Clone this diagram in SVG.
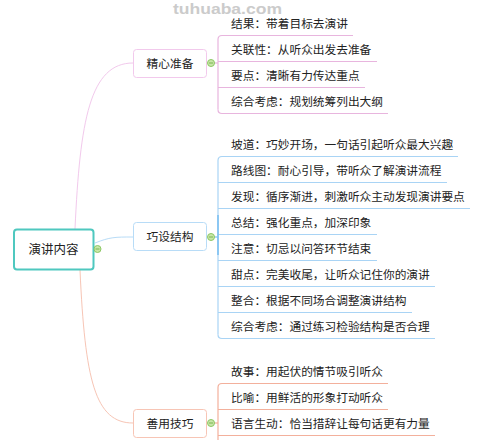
<svg xmlns="http://www.w3.org/2000/svg" width="483" height="440" viewBox="0 0 483 440">
<style>
text{font-family:"Noto Sans CJK SC","Noto Sans",sans-serif;fill:#222;}
.leaf{font-size:11.7px;}
.br{font-size:11.7px;text-anchor:middle;}
.box{fill:#fff;stroke-width:1;}
.dot{fill:#c8e6a8;stroke:#8dc865;stroke-width:1;}
.dotm{stroke:#7ab650;stroke-width:1;}
.wm{font-family:"Liberation Sans",Arial,sans-serif;font-weight:bold;font-size:15px;fill:#cbcbcb;}
.c{fill:none;}
</style>
<rect width="483" height="440" fill="#fff"/>
<g id="connectors">
  <path class="c" d="M75,229 C80,120 90,63 133,63" stroke="#f2c9ec" stroke-width="1"/>
  <path class="c" d="M95,243 C110,237 115,237 133,237" stroke="#b8dcf7" stroke-width="1"/>
  <path class="c" d="M80,270 C85,380 95,423 133,423" stroke="#f7c5b5" stroke-width="1"/>
  <g stroke="#e8b5de" stroke-width="1.2" fill="none">
    <path d="M214,63 H218"/>
    <path d="M218,109.5 V39.5 Q218,35.5 222,35.5 H353"/>
    <path d="M218,61.5 H377"/>
    <path d="M218,87.5 H365"/>
    <path d="M218,109.5 Q218,113.5 222,113.5 H388"/>
  </g>
  <g stroke="#a9d4f5" stroke-width="1.2" fill="none">
    <path d="M214,237 H218" stroke="#7cc0f2"/>
    <path d="M218,334.5 V160.5 Q218,156.5 222,156.5 H458"/>
    <path d="M218,182.5 H447"/>
    <path d="M218,208.5 H470"/>
    <path d="M218,234.5 H377"/>
    <path d="M218,260.5 H377"/>
    <path d="M218,286.5 H435"/>
    <path d="M218,312.5 H412"/>
    <path d="M218,334.5 Q218,338.5 222,338.5 H435"/>
    <path d="M218,215 V255" stroke="#7cc0f2" stroke-width="1.6"/>
  </g>
  <g stroke="#f3b09c" stroke-width="1.2" fill="none">
    <path d="M214,423 H218"/>
    <path d="M218,445 V387.5 Q218,383.5 222,383.5 H388"/>
    <path d="M218,409.5 H388"/>
    <path d="M218,435.5 H435"/>
  </g>
</g>
<text class="wm" x="173" y="14" textLength="109" lengthAdjust="spacingAndGlyphs">tuhuaba.com</text>
<g id="root">
  <rect x="14" y="229.5" width="79.5" height="40" rx="3" fill="#fff" stroke="#4fc8bf" stroke-width="2"/>
  <text x="53.5" y="253.5" font-size="12.5" text-anchor="middle">演讲内容</text>
  <circle class="dot" cx="97.5" cy="249" r="3.5"/><path class="dotm" d="M95.5,249 H99.5"/>
</g>
<g id="b1">
  <rect class="box" x="133.5" y="49.5" width="73" height="28" rx="3" stroke="#f2c9ec"/>
  <text class="br" x="170" y="67.5">精心准备</text>
  <circle class="dot" cx="211" cy="63" r="3.5"/><path class="dotm" d="M209,63 H213"/>
</g>
<g id="b2">
  <rect class="box" x="133.5" y="222.5" width="73" height="28" rx="3" stroke="#b8dcf7"/>
  <text class="br" x="170" y="241">巧设结构</text>
  <circle class="dot" cx="211" cy="237" r="3.5"/><path class="dotm" d="M209,237 H213"/>
</g>
<g id="b3">
  <rect class="box" x="133.5" y="409.5" width="73" height="28" rx="3" stroke="#f7c5b5"/>
  <text class="br" x="170" y="428">善用技巧</text>
  <circle class="dot" cx="211" cy="423" r="3.5"/><path class="dotm" d="M209,423 H213"/>
</g>
<g id="leaves1">
  <text class="leaf" x="231" y="28">结果：带着目标去演讲</text>
  <text class="leaf" x="231" y="54">关联性：从听众出发去准备</text>
  <text class="leaf" x="231" y="80">要点：清晰有力传达重点</text>
  <text class="leaf" x="231" y="106">综合考虑：规划统筹列出大纲</text>
</g>
<g id="leaves2">
  <text class="leaf" x="231" y="149">坡道：巧妙开场，一句话引起听众最大兴趣</text>
  <text class="leaf" x="231" y="175">路线图：耐心引导，带听众了解演讲流程</text>
  <text class="leaf" x="231" y="201">发现：循序渐进，刺激听众主动发现演讲要点</text>
  <text class="leaf" x="231" y="227">总结：强化重点，加深印象</text>
  <text class="leaf" x="231" y="253">注意：切忌以问答环节结束</text>
  <text class="leaf" x="231" y="279">甜点：完美收尾，让听众记住你的演讲</text>
  <text class="leaf" x="231" y="305">整合：根据不同场合调整演讲结构</text>
  <text class="leaf" x="231" y="331">综合考虑：通过练习检验结构是否合理</text>
</g>
<g id="leaves3">
  <text class="leaf" x="231" y="376">故事：用起伏的情节吸引听众</text>
  <text class="leaf" x="231" y="402">比喻：用鲜活的形象打动听众</text>
  <text class="leaf" x="231" y="428">语言生动：恰当措辞让每句话更有力量</text>
</g>
</svg>
